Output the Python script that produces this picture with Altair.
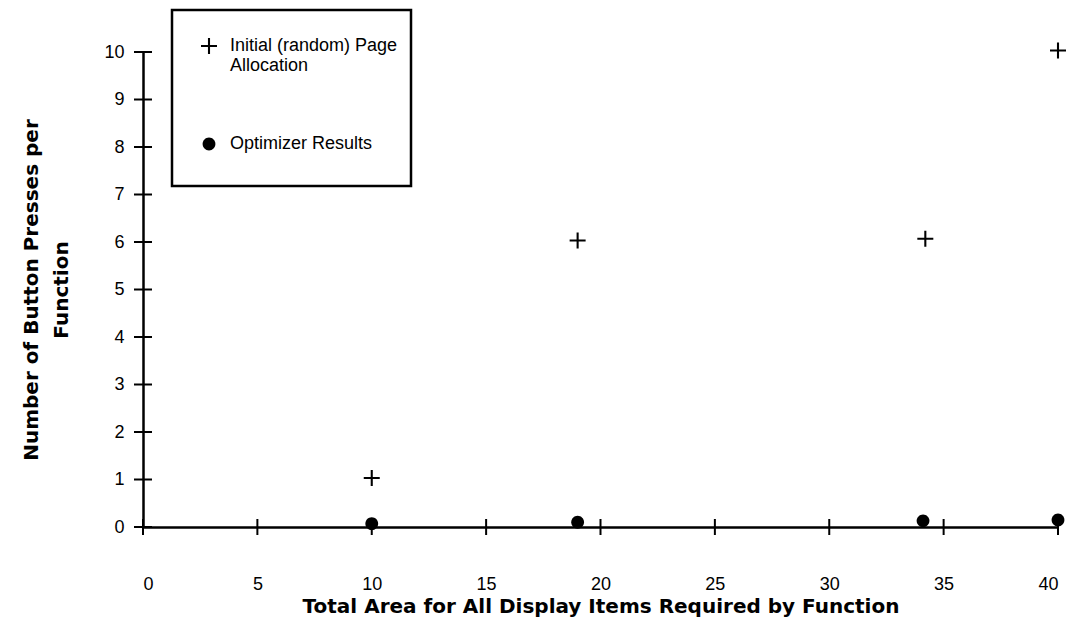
import altair as alt
import pandas as pd

# ---- data ----
area_initial = [10, 19, 34.2, 40]
presses_initial = [1.03, 6.03, 6.07, 10.03]
area_opt = [10, 19, 34.1, 40]
presses_opt = [0.07, 0.1, 0.13, 0.15]
series_names = ["Initial (random) Page Allocation", "Optimizer Results"]
x_ticks = [0, 5, 10, 15, 20, 25, 30, 35, 40]
y_ticks = [0, 1, 2, 3, 4, 5, 6, 7, 8, 9, 10]

rows = []
for a, p in zip(area_initial, presses_initial):
    rows.append({"area": a, "presses": p, "series": series_names[0]})
for a, p in zip(area_opt, presses_opt):
    rows.append({"area": a, "presses": p, "series": series_names[1]})
pts = pd.DataFrame(rows)
xt = pd.DataFrame({"area": x_ticks, "presses": [0] * len(x_ticks)})
yt = pd.DataFrame({"presses": y_ticks, "area": [0] * len(y_ticks)})

FONT = "Liberation Sans"
TFONT = "DejaVu Sans"
# thin plus drawn as a filled outline, and a filled dot
CROSS = "M-1,-0.13H-0.13V-1H0.13V-0.13H1V0.13H0.13V1H-0.13V0.13H-1Z"
DOT = "M0.8,0A0.8,0.8 0 1,1 -0.8,0A0.8,0.8 0 1,1 0.8,0Z"

xscale = alt.Scale(domain=[0, 40], nice=False, zero=False)
yscale = alt.Scale(domain=[0, 10], nice=False, zero=False)

xaxis = alt.Axis(
    values=x_ticks, ticks=False, tickSize=0, labelPadding=48, grid=False,
    title="Total Area for All Display Items Required by Function",
    titlePadding=3,
)
yaxis = alt.Axis(
    values=y_ticks, ticks=False, tickSize=0, labelPadding=19, grid=False,
    title=["Number of Button Presses per", "Function"],
    titlePadding=32, titleLineHeight=30,
)

points = alt.Chart(pts).mark_point(
    filled=True, fill="black", strokeWidth=0, opacity=1, size=256
).encode(
    x=alt.X("area:Q", scale=xscale, axis=xaxis),
    y=alt.Y("presses:Q", scale=yscale, axis=yaxis),
    shape=alt.Shape(
        "series:N",
        scale=alt.Scale(domain=series_names, range=[CROSS, DOT]),
        legend=alt.Legend(
            title=" ", titleFontSize=10, titlePadding=4,
            orient="none", legendX=29, legendY=-42,
            padding=13, symbolOffset=15, labelOffset=12, rowPadding=60,
            labelExpr="datum.label == 'Optimizer Results' ? [datum.label, ''] : ['Initial (random) Page', 'Allocation']",
        ),
    ),
)

xticks = alt.Chart(xt).mark_tick(orient="vertical", size=16, thickness=2, color="black", opacity=1).encode(
    x=alt.X("area:Q", scale=xscale), y=alt.Y("presses:Q", scale=yscale)
)
yticks = alt.Chart(yt).mark_tick(orient="horizontal", size=18, thickness=2, color="black", opacity=1).encode(
    x=alt.X("area:Q", scale=xscale), y=alt.Y("presses:Q", scale=yscale)
)

chart = alt.layer(xticks, yticks, points).properties(
    width=915, height=475,
    autosize=alt.AutoSizeParams(type="none"),
    padding={"left": 135, "top": 44, "right": 10, "bottom": 95},
    background="white",
).configure_view(stroke=None).configure_axis(
    domainColor="black", domainWidth=2.5,
    labelFont=FONT, labelFontSize=18, labelColor="black",
    titleFont=TFONT, titleFontSize=20, titleFontWeight="bold", titleColor="black",
).configure_legend(
    strokeColor="black", strokeWidth=2.5, fillColor="white",
    labelFont=FONT, labelFontSize=18, labelColor="black", labelLimit=400,
    symbolSize=256, symbolFillColor="black", symbolStrokeWidth=0, symbolOpacity=1,
)

chart.save("out.html", embed_options={"renderer": "svg", "actions": False})
